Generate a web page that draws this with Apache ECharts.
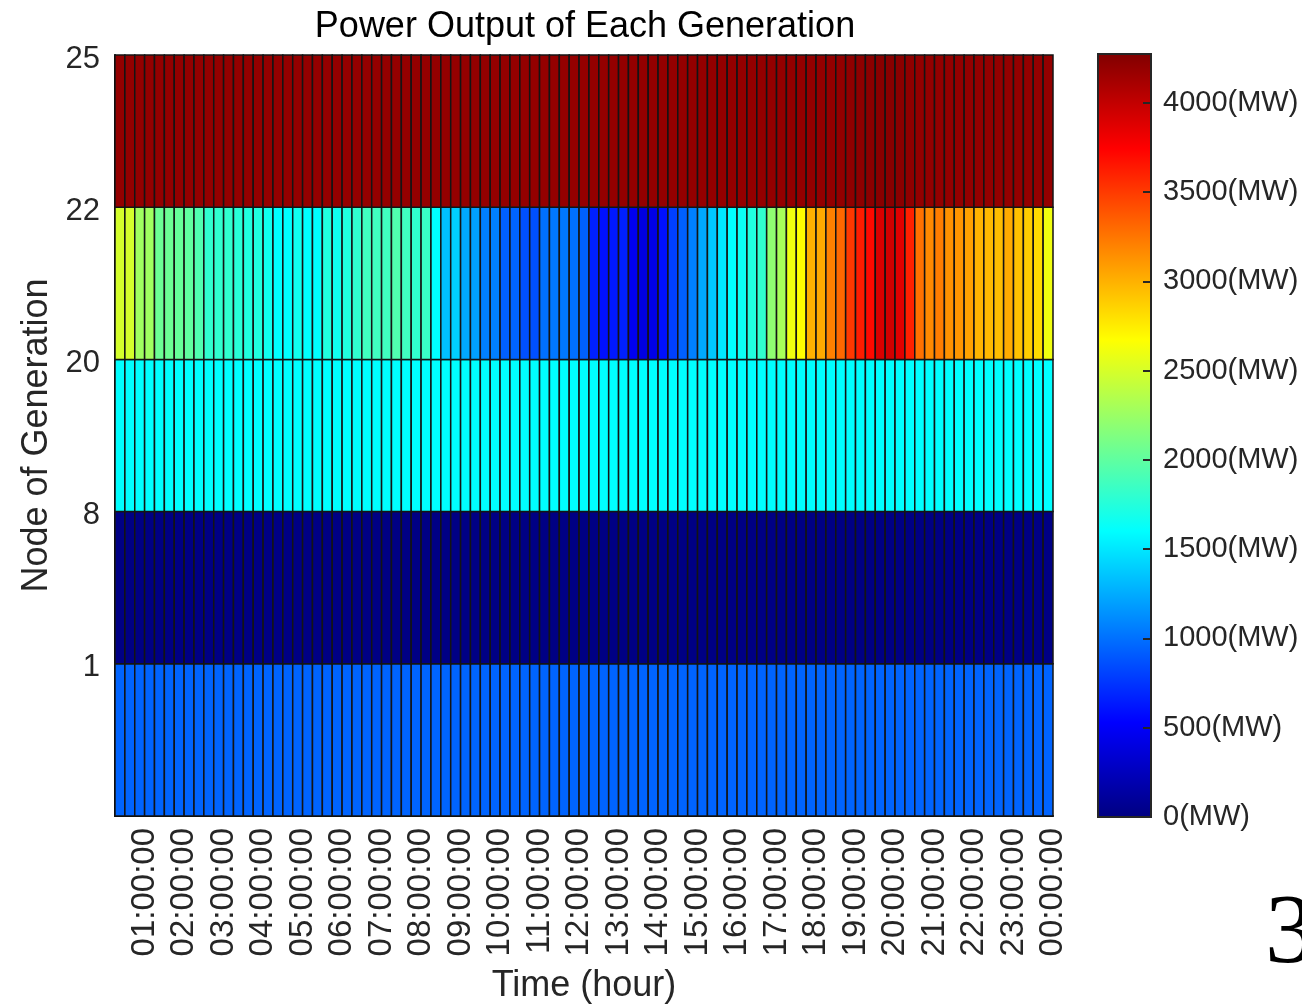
<!DOCTYPE html>
<html>
<head>
<meta charset="utf-8">
<title>Power Output of Each Generation</title>
<script src="https://cdn.jsdelivr.net/npm/echarts@6/dist/echarts.min.js"></script>
<style>
  html, body { margin: 0; padding: 0; background: #fff; }
  #powerChart { width: 1302px; height: 1008px; }
</style>
</head>
<body>
<div id="powerChart"></div>
<script>
// ---------- data ----------
// tick labels on the time axis (one every 4 quarter-hour points)
const hourLabels = ['01:00:00', '02:00:00', '03:00:00', '04:00:00', '05:00:00', '06:00:00',
  '07:00:00', '08:00:00', '09:00:00', '10:00:00', '11:00:00', '12:00:00',
  '13:00:00', '14:00:00', '15:00:00', '16:00:00', '17:00:00', '18:00:00',
  '19:00:00', '20:00:00', '21:00:00', '22:00:00', '23:00:00', '00:00:00'];

// row edges of the grid, bottom to top
const nodeLabels = ['', '1', '8', '20', '22', '25'];

// power (MW) per 15-min cell, one array per row, bottom to top (95 cells each)
const rowBelow1 = [
  953, 953, 953, 953, 953, 953, 953, 953, 953, 953, 953, 953,
  953, 953, 953, 953, 953, 953, 953, 953, 953, 953, 953, 953,
  953, 953, 953, 953, 953, 953, 953, 953, 953, 953, 953, 953,
  953, 953, 953, 953, 953, 953, 953, 953, 953, 953, 953, 953,
  953, 953, 953, 953, 953, 953, 953, 953, 953, 953, 953, 953,
  953, 953, 953, 953, 953, 953, 953, 953, 953, 953, 953, 953,
  953, 953, 953, 953, 953, 953, 953, 953, 953, 953, 953, 953,
  953, 953, 953, 953, 953, 953, 953, 953, 953, 953, 953];
const row1to8 = [
  15, 15, 15, 15, 15, 15, 15, 15, 15, 15, 15, 15,
  15, 15, 15, 15, 15, 15, 15, 15, 15, 15, 15, 15,
  15, 15, 15, 15, 15, 15, 15, 15, 15, 15, 15, 15,
  15, 15, 15, 15, 15, 15, 15, 15, 15, 15, 15, 15,
  15, 15, 15, 15, 15, 15, 15, 15, 15, 15, 15, 15,
  15, 15, 15, 15, 15, 15, 15, 15, 15, 15, 15, 15,
  15, 15, 15, 15, 15, 15, 15, 15, 15, 15, 15, 15,
  15, 15, 15, 15, 15, 15, 15, 15, 15, 15, 15];
const row8to20 = [
  1601, 1601, 1601, 1601, 1601, 1601, 1601, 1601, 1601, 1601, 1601, 1601,
  1601, 1601, 1601, 1601, 1601, 1601, 1601, 1601, 1601, 1601, 1601, 1601,
  1601, 1601, 1601, 1601, 1601, 1601, 1601, 1601, 1601, 1601, 1601, 1601,
  1601, 1601, 1601, 1601, 1601, 1601, 1601, 1601, 1601, 1601, 1601, 1601,
  1601, 1601, 1601, 1601, 1601, 1601, 1601, 1601, 1601, 1601, 1601, 1601,
  1601, 1601, 1601, 1601, 1601, 1601, 1601, 1601, 1601, 1601, 1601, 1601,
  1601, 1601, 1601, 1601, 1601, 1601, 1601, 1601, 1601, 1601, 1601, 1601,
  1601, 1601, 1601, 1601, 1601, 1601, 1601, 1601, 1601, 1601, 1601];
const row20to22 = [
  2490, 2490, 2272, 2272, 2054, 2054, 2030, 2004, 1936, 1803, 1803, 1803,
  1770, 1735, 1735, 1668, 1601, 1601, 1668, 1601, 1601, 1735, 1668, 1735,
  1803, 1869, 1869, 1869, 1936, 1869, 1803, 1836, 1601, 1337, 1404, 1237,
  1204, 1068, 1068, 936, 953, 868, 868, 1003, 1036, 1036, 1003, 936,
  667, 600, 634, 667, 471, 404, 437, 600, 801, 936, 1068, 1237,
  1371, 1500, 1601, 1650, 1735, 1803, 2200, 2300, 2606, 2669, 3000, 3033,
  3203, 3303, 3504, 3621, 3703, 3900, 3933, 3866, 3604, 3269, 3168, 3219,
  3134, 3117, 3067, 2984, 2967, 2950, 3025, 2933, 2882, 2823, 2606];
const row22to25 = [
  4190, 4190, 4190, 4190, 4190, 4190, 4190, 4190, 4190, 4190, 4190, 4190,
  4190, 4190, 4190, 4190, 4190, 4190, 4190, 4190, 4190, 4190, 4190, 4190,
  4190, 4190, 4190, 4190, 4190, 4190, 4190, 4190, 4190, 4190, 4190, 4190,
  4190, 4190, 4190, 4190, 4190, 4190, 4190, 4190, 4190, 4190, 4190, 4190,
  4190, 4190, 4190, 4190, 4190, 4190, 4190, 4190, 4190, 4190, 4190, 4190,
  4190, 4190, 4190, 4190, 4190, 4190, 4190, 4190, 4190, 4190, 4190, 4190,
  4190, 4195, 4205, 4215, 4225, 4235, 4235, 4225, 4210, 4195, 4190, 4190,
  4190, 4190, 4190, 4190, 4190, 4190, 4190, 4190, 4190, 4190, 4190];

const powerMin = 0;
const powerMax = 4273;
const colorbarTicks = 500;

// MATLAB "jet" colormap, evenly spaced stops
const jetColors = ['#000080', '#0000ff', '#0080ff', '#00ffff', '#80ff80',
  '#ffff00', '#ff8000', '#ff0000', '#800000'];

// ---------- build ----------
const rows = [rowBelow1, row1to8, row8to20, row20to22, row22to25];

// 96 quarter-hour points: 00:15 ... 24:00 (cells sit between them)
const timePoints = [];
for (let i = 0; i < 96; i++) {
  const m = (i + 1) * 15;
  const hh = String(Math.floor(m / 60) % 24).padStart(2, '0');
  const mm = String(m % 60).padStart(2, '0');
  timePoints.push(hh + ':' + mm + ':00');
}

const cellData = [];
rows.forEach(function (row, r) {
  row.forEach(function (v, c) {
    cellData.push([c, r, v]);
  });
});

const font = "'Liberation Sans', Arial, Helvetica, sans-serif";
const textGray = '#262626';

var chart = echarts.init(document.getElementById('powerChart'));

const option = {
  animation: false,
  title: {
    text: 'Power Output of Each Generation',
    left: 580,
    top: 4,
    textAlign: 'center',
    textStyle: { fontFamily: font, fontSize: 36, fontWeight: 'normal', color: '#000' }
  },
  grid: [
    { left: 115, top: 55, width: 938, height: 761, outerBoundsMode: 'none' },
    { left: 1098, top: 54, width: 53, height: 763, outerBoundsMode: 'none' }
  ],
  visualMap: {
    show: false,
    type: 'continuous',
    seriesIndex: 0,
    dimension: 2,
    min: powerMin,
    max: powerMax,
    inRange: { color: jetColors }
  },
  xAxis: [
    {
      type: 'category',
      gridIndex: 0,
      data: timePoints,
      boundaryGap: false,
      name: 'Time (hour)',
      nameLocation: 'middle',
      nameGap: 152,
      nameTextStyle: { fontFamily: font, fontSize: 36, color: textGray },
      axisLine: { show: true, lineStyle: { color: '#000', width: 2 } },
      axisTick: { show: false },
      axisLabel: {
        rotate: 90,
        margin: 12,
        fontFamily: font,
        fontSize: 33,
        color: textGray,
        interval: function (index) { return index % 4 === 3; },
        formatter: function (value, index) {
          return index % 4 === 3 ? hourLabels[(index - 3) / 4] : '';
        }
      },
      splitLine: { show: false }
    },
    {
      type: 'value',
      gridIndex: 1,
      min: 0,
      max: 1,
      show: false
    }
  ],
  yAxis: [
    {
      type: 'category',
      gridIndex: 0,
      data: nodeLabels,
      boundaryGap: false,
      name: 'Node of Generation',
      nameLocation: 'middle',
      nameGap: 60,
      nameTextStyle: { fontFamily: font, fontSize: 36, color: textGray },
      axisLine: { show: true, lineStyle: { color: '#000', width: 2 } },
      axisTick: { show: false },
      axisLabel: {
        interval: 0, margin: 15,
        formatter: function (v) { return v ? '{n|' + v + '}' : ''; },
        rich: { n: { fontFamily: font, fontSize: 31, color: textGray, padding: [8, 0, 0, 0] } }
      },
      splitLine: { show: false }
    },
    {
      type: 'value',
      gridIndex: 1,
      position: 'right',
      z: 10,
      min: powerMin,
      max: powerMax,
      interval: colorbarTicks,
      axisLine: { show: true, onZero: false, lineStyle: { color: textGray, width: 2 } },
      axisTick: { show: true, inside: true, length: 8, lineStyle: { color: textGray, width: 2 } },
      axisLabel: {
        showMaxLabel: false,
        margin: 12,
        fontFamily: font,
        fontSize: 29,
        color: textGray,
        formatter: function (v) { return v + '(MW)'; }
      },
      splitLine: { show: false }
    }
  ],
  series: [
    {
      type: 'custom',
      xAxisIndex: 0,
      yAxisIndex: 0,
      encode: { x: 0, y: 1 },
      data: cellData,
      renderItem: function (params, api) {
        var c = api.value(0), r = api.value(1);
        var p0 = api.coord([c, r]);
        var p1 = api.coord([c + 1, r + 1]);
        return {
          type: 'rect',
          shape: { x: p0[0], y: p1[1], width: p1[0] - p0[0], height: p0[1] - p1[1] },
          style: { fill: api.visual('color'), stroke: '#141414', lineWidth: 1.5 }
        };
      }
    },
    {
      // colorbar
      type: 'custom',
      xAxisIndex: 1,
      yAxisIndex: 1,
      z: 1,
      data: [[0, powerMin, powerMax]],
      renderItem: function (params, api) {
        var p0 = api.coord([0, api.value(1)]);
        var p1 = api.coord([1, api.value(2)]);
        var stops = jetColors.map(function (col, i) {
          return { offset: i / (jetColors.length - 1), color: col };
        });
        return {
          type: 'rect',
          shape: { x: p0[0], y: p1[1], width: p1[0] - p0[0], height: p0[1] - p1[1] },
          style: {
            fill: new echarts.graphic.LinearGradient(0, 1, 0, 0, stops),
            stroke: textGray,
            lineWidth: 2
          }
        };
      }
    }
  ],
  graphic: [
    {
      type: 'text',
      left: 1265,
      top: 886,
      style: { text: '3', font: "100px 'Liberation Serif', 'Times New Roman', serif", fill: '#000' }
    }
  ]
};

chart.setOption(option);
</script>
</body>
</html>
